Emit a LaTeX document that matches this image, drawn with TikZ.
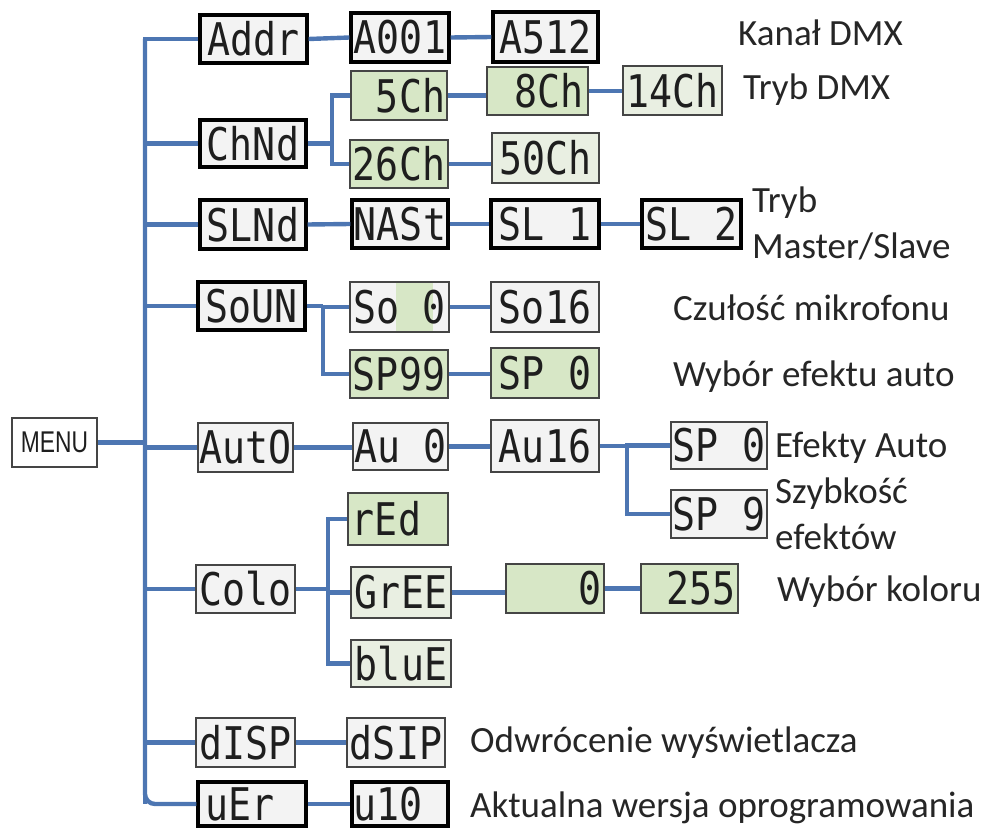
\documentclass[tikz,border=0pt]{standalone}
\usepackage{fontspec}
\setmainfont{Carlito}
\newfontfamily\lcdfont[FakeStretch=0.85]{DejaVu Sans Mono}
\newfontfamily\menufont[FakeStretch=0.76]{Liberation Sans}
\newcommand\blank{\phantom{0}}
\definecolor{conncol}{HTML}{4D76B2}
\definecolor{lcdgray}{HTML}{F3F3F3}
\definecolor{lcdgreen}{HTML}{D7E7C6}
\definecolor{lcdpale}{HTML}{E9EFE2}
\definecolor{lcdedge}{HTML}{454545}
\definecolor{lcdink}{HTML}{1E1E1E}
\definecolor{labink}{HTML}{262626}
\begin{document}
\begin{tikzpicture}[x=1pt,y=-1pt,
  lcd/.style={draw=lcdedge, line width=2.3pt, fill=lcdgray, inner sep=0pt,
    font=\lcdfont\fontsize{45}{45}\selectfont, text=lcdink},
  lcdk/.style={lcd, draw=black, line width=3.2pt},
  green/.style={fill=lcdgreen},
  pale/.style={fill=lcdpale},
  sz/.style 2 args={minimum width=#1pt, minimum height=#2pt},
  conn/.style={draw=conncol, line width=4.4pt},
  lab/.style={anchor=west, inner sep=0pt, text=labink, align=left,
    font=\fontsize{37}{46}\selectfont}]
\useasboundingbox (0,0) rectangle (991,832);

% menu
\node[draw=lcdedge, line width=1.8pt, fill=white, sz={85}{49}, inner sep=0pt,
  font=\menufont\fontsize{30}{30}\selectfont, text=lcdink] (menu) at (54.5,442.5) {MENU};

% level 1
\node[lcdk, sz={107}{48}] (addr) at (253.5,39) {Addr};
\node[lcdk, sz={106}{47}] (chnd) at (253,143.5) {ChNd};
\node[lcdk, sz={106}{49}] (slnd) at (253,224.5) {SLNd};
\node[lcdk, sz={107}{48}] (soun) at (251.5,306) {SoUN};
\node[lcd, sz={95}{49}] (auto) at (245.5,447.5) {AutO};
\node[lcd, sz={99}{48}] (colo) at (245.5,589) {Colo};
\node[lcd, sz={99}{49}] (disp) at (245.5,742.5) {dISP};
\node[lcdk, sz={108}{44}] (uer) at (252,804) {uEr\blank};

% level 2
\node[lcdk, sz={98}{49}] (a001) at (400,37.5) {A001};
\node[lcd, green, sz={96}{49}] (ch5) at (399,95.5) {\blank 5Ch};
\node[lcd, green, sz={98}{48}] (ch26) at (399,164) {26Ch};
\node[lcdk, sz={96}{48}] (nast) at (400,224) {NASt};
\node[lcd, sz={99}{50},
  path picture={\fill[lcdgreen] ([xshift=-4pt]path picture bounding box.south)
    rectangle ([xshift=33pt]path picture bounding box.north);}] (so0) at (399.5,307) {So\blank 0};
\node[lcd, green, sz={98}{48}] (sp99) at (399,374) {SP99};
\node[lcd, sz={95}{47}] (au0) at (400.5,446.5) {Au\blank 0};
\node[lcd, green, sz={100}{52}] (red) at (398,519) {rEd\blank};
\node[lcd, pale, sz={100}{51}] (gree) at (401,592.5) {GrEE};
\node[lcd, pale, sz={100}{47}] (blue) at (401,663.5) {bluE};
\node[lcd, sz={98}{49}] (dsip) at (396,742.5) {dSIP};
\node[lcdk, sz={96}{44}] (u10) at (400,804) {u10\blank};

% level 3
\node[lcdk, sz={105}{50}] (a512) at (545.5,37) {A512};
\node[lcd, green, sz={101}{48}] (ch8) at (537.5,91) {\blank 8Ch};
\node[lcd, pale, sz={107}{50}] (ch50) at (545.5,158) {50Ch};
\node[lcdk, sz={108}{48}] (sl1) at (545,224) {SL\blank 1};
\node[lcd, sz={108}{50}] (so16) at (545,307) {So16};
\node[lcd, green, sz={108}{50}] (spg) at (545,373) {SP\blank 0};
\node[lcd, sz={108}{52}] (au16) at (545,446) {Au16};
\node[lcd, green, sz={98}{49}] (zero) at (555,588.5) {\blank\blank\blank 0};

% level 4
\node[lcd, pale, sz={99}{49}] (ch14) at (672.5,90.5) {14Ch};
\node[lcdk, sz={99}{48}] (sl2) at (691.5,224) {SL\blank 2};
\node[lcd, sz={96}{47}] (sp0) at (719,445.5) {SP\blank 0};
\node[lcd, sz={96}{48}] (sp9) at (719,514) {SP\blank 9};
\node[lcd, green, sz={97}{49}] (c255) at (689.5,588.5) {\blank 255};

% labels
\node[lab] (l1) at (738,33) {Kanał DMX};
\node[lab] (l2) at (743,90) {Tryb DMX};
\node[lab] (l3) at (752,223) {Tryb\\Master/Slave};
\node[lab] (l4) at (673,308) {Czułość mikrofonu};
\node[lab] (l5) at (673,377) {Wybór efektu auto};
\node[lab] (l6) at (775,448) {Efekty Auto};
\node[lab] (l7) at (775,514) {Szybkość\\efektów};
\node[lab] (l8) at (777,592) {Wybór koloru};
\node[lab] (l9) at (470,743) {Odwrócenie wyświetlacza};
\node[lab] (l10) at (470,808) {Aktualna wersja oprogramowania};

% trunk
\coordinate (ttop) at (145,39);
\coordinate (tbot) at (145,804);
\draw[conn] (addr.west) -- (ttop) -- (tbot);
\draw[conn, rounded corners=10pt] (ttop) -- (tbot) -- (uer.west);
\foreach \n in {chnd,slnd,soun,auto,colo,disp}
  \draw[conn] (\n.west) -- (\n.west -| ttop);
\draw[conn] (menu.east) -- (menu.east -| ttop);

% row Addr
\draw[conn] (addr.east) -- (a001.west);
\draw[conn] (a001.east) -- (a512.west);

% ChNd branch
\coordinate (cb) at (332,143.5);
\draw[conn] (chnd.east) -- (cb);
\draw[conn] (ch5.west) -| (cb) |- (ch26.west);
\draw[conn] (ch5.east) -- (ch5.east -| ch8.west);
\draw[conn] (ch8.east) -- (ch8.east -| ch14.west);
\draw[conn] (ch26.east) -- (ch26.east -| ch50.west);

% SLNd row
\draw[conn] (slnd.east) -- (nast.west);
\draw[conn] (nast.east) -- (sl1.west);
\draw[conn] (sl1.east) -- (sl2.west);

% SoUN branch
\coordinate (sb) at (323,306);
\draw[conn] (soun.east) -- (sb);
\draw[conn] (so0.west) -| (sb) |- (sp99.west);
\draw[conn] (so0.east) -- (so0.east -| so16.west);
\draw[conn] (sp99.east) -- (sp99.east -| spg.west);

% Auto row
\draw[conn] (auto.east) -- (auto.east -| au0.west);
\draw[conn] (au0.east) -- (au0.east -| au16.west);
\coordinate (ab) at (627,446);
\draw[conn] (au16.east) -- (ab);
\draw[conn] (sp0.west) -| (ab) |- (sp9.west);

% Colo branch
\coordinate (kb) at (328,589);
\draw[conn] (colo.east) -- (kb);
\draw[conn] (red.west) -| (kb) |- (blue.west);
\draw[conn] (gree.west) -- (gree.west -| kb);
\draw[conn] (gree.east) -- (gree.east -| zero.west);
\draw[conn] (zero.east) -- (zero.east -| c255.west);

% dISP, uEr
\draw[conn] (disp.east) -- (dsip.west);
\draw[conn] (uer.east) -- (uer.east -| u10.west);
\end{tikzpicture}
\end{document}
